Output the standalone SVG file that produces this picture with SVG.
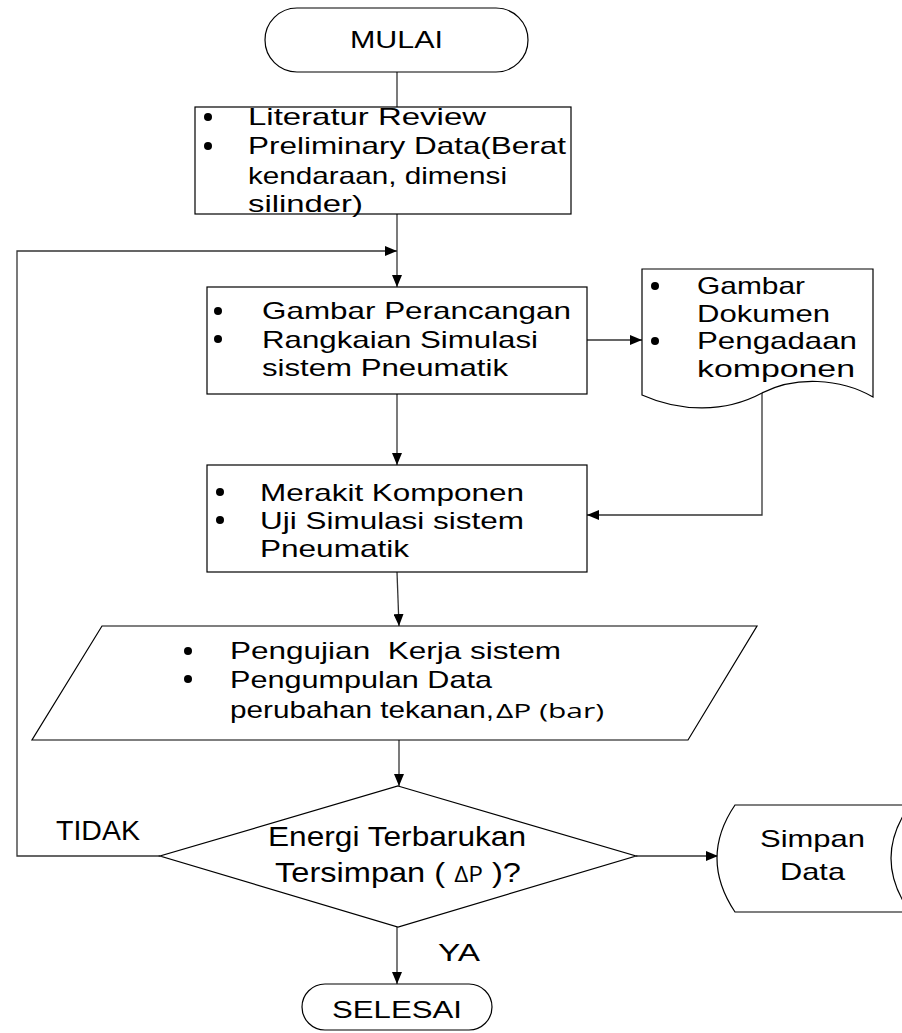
<svg xmlns="http://www.w3.org/2000/svg" width="902" height="1033" viewBox="0 0 902 1033">
<style>
.shape{fill:#fff;stroke:#000;stroke-width:1.2}
.t{font-family:"Liberation Sans",Arial,sans-serif;font-size:24px;fill:#000}
.c{font-family:"Open Sans","Noto Sans",sans-serif;font-size:20px;fill:#000}
.n{font-family:"Liberation Sans Narrow","Liberation Sans",Arial,sans-serif;font-size:28px;fill:#000}
.conn{fill:none;stroke:#333;stroke-width:1.3}
.dot{fill:#000}
</style>
<defs>
<marker id="arr" markerUnits="userSpaceOnUse" markerWidth="12" markerHeight="10" refX="12" refY="5" orient="auto">
<path d="M0,0 L12,5 L0,10 z" fill="#000"/>
</marker>
</defs>
<rect width="902" height="1033" fill="#fff"/>

<g id="connectors">
<line class="conn" x1="397" y1="72" x2="397" y2="107"/>
<line class="conn" x1="397" y1="214" x2="397" y2="287" marker-end="url(#arr)"/>
<polyline class="conn" points="160,856 17,856 17,251 397,251" marker-end="url(#arr)"/>
<line class="conn" x1="587" y1="340" x2="642" y2="340" marker-end="url(#arr)"/>
<line class="conn" x1="397" y1="394" x2="397" y2="465" marker-end="url(#arr)"/>
<polyline class="conn" points="762,393 762,515 587,515" marker-end="url(#arr)"/>
<line class="conn" x1="397" y1="572" x2="399" y2="626" marker-end="url(#arr)"/>
<line class="conn" x1="399" y1="740" x2="399" y2="786" marker-end="url(#arr)"/>
<line class="conn" x1="636" y1="856" x2="718" y2="856" marker-end="url(#arr)"/>
<line class="conn" x1="397" y1="927" x2="397" y2="984" marker-end="url(#arr)"/>
</g>

<g id="mulai">
<rect class="shape" x="265" y="8" width="263" height="64" rx="32" ry="32"/>
<text class="t" x="350" y="48" textLength="93" lengthAdjust="spacingAndGlyphs">MULAI</text>
</g>

<g id="box1">
<rect class="shape" x="195" y="107" width="376" height="107"/>
<circle class="dot" cx="208" cy="117" r="4"/>
<circle class="dot" cx="208" cy="146" r="4"/>
<text class="t" x="248" y="125" textLength="238" lengthAdjust="spacingAndGlyphs">Literatur Review</text>
<text class="t" x="248" y="154" textLength="318" lengthAdjust="spacingAndGlyphs">Preliminary Data(Berat</text>
<text class="t" x="248" y="184" textLength="259" lengthAdjust="spacingAndGlyphs">kendaraan, dimensi</text>
<text class="t" x="248" y="212" textLength="115" lengthAdjust="spacingAndGlyphs">silinder)</text>
</g>

<g id="box2">
<rect class="shape" x="207" y="287" width="380" height="107"/>
<circle class="dot" cx="218" cy="311" r="4"/>
<circle class="dot" cx="218" cy="339" r="4"/>
<text class="t" x="262" y="319" textLength="309" lengthAdjust="spacingAndGlyphs">Gambar Perancangan</text>
<text class="t" x="262" y="348" textLength="276" lengthAdjust="spacingAndGlyphs">Rangkaian Simulasi</text>
<text class="t" x="262" y="376" textLength="246" lengthAdjust="spacingAndGlyphs">sistem Pneumatik</text>
</g>

<g id="dokumen">
<path class="shape" d="M642,269 H873 V397 C840,378 795,376 762,393 C725,413 680,412 642,395 Z"/>
<circle class="dot" cx="655" cy="286" r="4"/>
<circle class="dot" cx="655" cy="341" r="4"/>
<text class="t" x="697" y="294" textLength="108" lengthAdjust="spacingAndGlyphs">Gambar</text>
<text class="t" x="697" y="322" textLength="133" lengthAdjust="spacingAndGlyphs">Dokumen</text>
<text class="t" x="697" y="349" textLength="160" lengthAdjust="spacingAndGlyphs">Pengadaan</text>
<text class="t" x="697" y="377" textLength="158" lengthAdjust="spacingAndGlyphs">komponen</text>
</g>

<g id="box3">
<rect class="shape" x="207" y="465" width="380" height="107"/>
<circle class="dot" cx="220" cy="492" r="4"/>
<circle class="dot" cx="220" cy="520" r="4"/>
<text class="t" x="260" y="501" textLength="264" lengthAdjust="spacingAndGlyphs">Merakit Komponen</text>
<text class="t" x="260" y="529" textLength="264" lengthAdjust="spacingAndGlyphs">Uji Simulasi sistem</text>
<text class="t" x="260" y="557" textLength="149" lengthAdjust="spacingAndGlyphs">Pneumatik</text>
</g>

<g id="pengujian">
<polygon class="shape" points="102,626 757,626 688,740 32,740"/>
<circle class="dot" cx="188" cy="651" r="4"/>
<circle class="dot" cx="188" cy="679" r="4"/>
<text class="t" x="230" y="659" textLength="331" lengthAdjust="spacingAndGlyphs" xml:space="preserve">Pengujian  Kerja sistem</text>
<text class="t" x="230" y="688" textLength="262" lengthAdjust="spacingAndGlyphs">Pengumpulan Data</text>
<text class="t" x="230" y="718" textLength="264" lengthAdjust="spacingAndGlyphs">perubahan tekanan,</text>
<text class="c" x="496" y="718" textLength="108" lengthAdjust="spacingAndGlyphs">ΔP (bar)</text>
</g>

<g id="keputusan">
<polygon class="shape" points="398,786 636,856 398,927 160,856"/>
<text class="n" x="268" y="846" textLength="258" lengthAdjust="spacingAndGlyphs">Energi Terbarukan</text>
<text class="n" x="275" y="882" textLength="246" lengthAdjust="spacingAndGlyphs">Tersimpan ( <tspan class="c" style="font-size:21px">ΔP</tspan> )?</text>
</g>

<g id="simpan">
<path class="shape" d="M735,805 L910,805 Q872,858 910,912 L735,912 Q699,858 735,805 Z"/>
<text class="t" x="760" y="847" textLength="105" lengthAdjust="spacingAndGlyphs">Simpan</text>
<text class="t" x="780" y="880" textLength="65" lengthAdjust="spacingAndGlyphs">Data</text>
</g>

<g id="selesai">
<rect class="shape" x="302" y="984" width="190" height="46" rx="23" ry="23"/>
<text class="t" x="332" y="1018" textLength="130" lengthAdjust="spacingAndGlyphs">SELESAI</text>
</g>

<g id="labels">
<text class="n" x="56" y="840" textLength="84" lengthAdjust="spacingAndGlyphs">TIDAK</text>
<text class="t" x="438" y="961" textLength="42" lengthAdjust="spacingAndGlyphs">YA</text>
</g>
</svg>
